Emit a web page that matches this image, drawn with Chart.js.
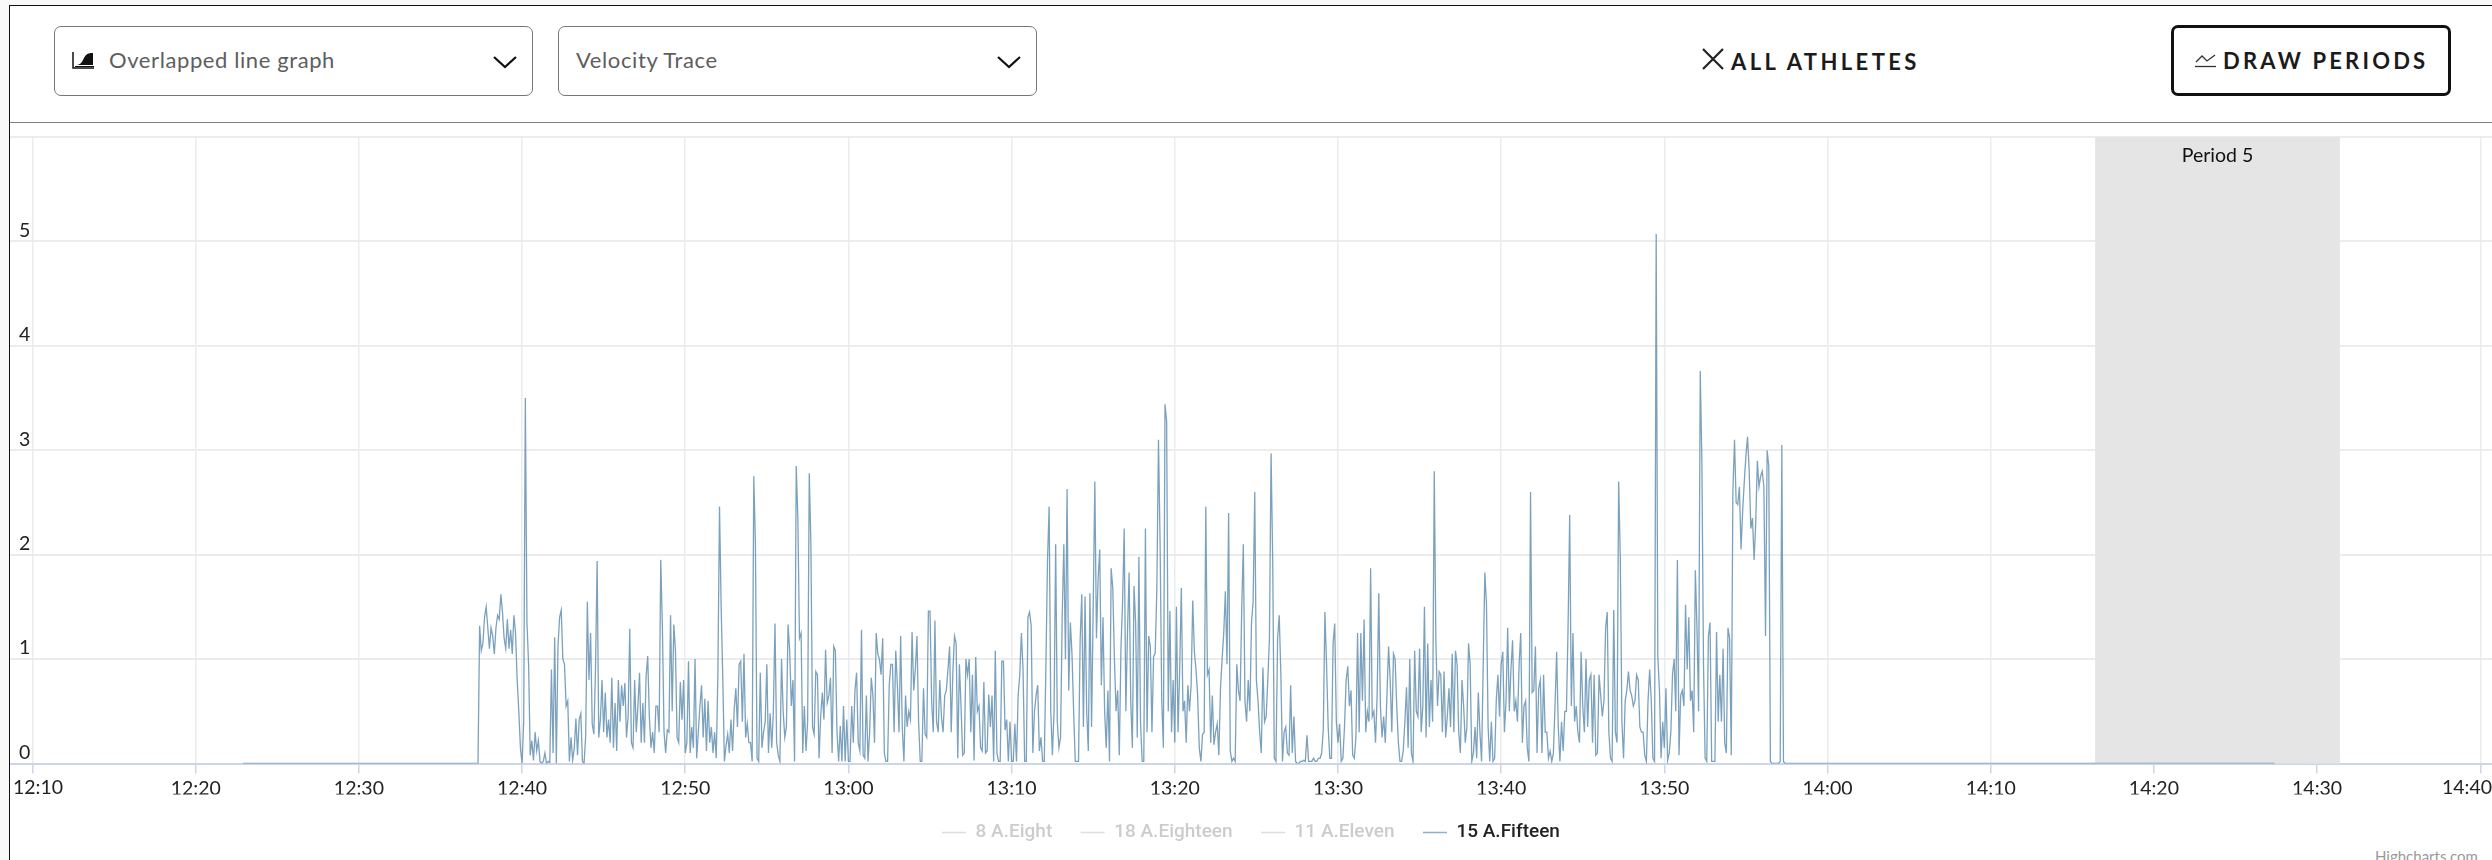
<!DOCTYPE html>
<html>
<head>
<meta charset="utf-8">
<title>Velocity Trace</title>
<script src="https://cdn.jsdelivr.net/npm/chart.js@4/dist/chart.umd.min.js"></script>
<style>
  html, body { margin: 0; padding: 0; width: 2492px; height: 860px; overflow: hidden; background: #f9f9f9; font-family: Lato, sans-serif; }
  #page { position: absolute; left: 9px; top: 5px; width: 2483px; height: 855px; background: #fff; border-left: 1px solid #111; border-top: 1px solid #111; box-sizing: border-box; }
  #rule { position: absolute; left: 10px; top: 122px; width: 2482px; height: 1px; background: #808080; }
  .select { position: absolute; top: 26px; height: 70px; width: 479px; border: 1px solid #777; border-radius: 7px; box-sizing: border-box; background: #fff; }
  .select span { position: absolute; top: 20px; font-size: 22px; line-height: 25px; color: #5e5e5e; letter-spacing: .6px; }
  .select svg { position: absolute; }
  #allAthletes { position: absolute; left: 1731px; top: 50px; font-size: 22px; line-height: 24px; font-weight: 700; letter-spacing: 3.4px; color: #1b1b1b; }
  #drawBtn { position: absolute; left: 2171px; top: 25px; width: 280px; height: 71px; border: 3px solid #111; border-radius: 7px; box-sizing: border-box; background: #fff; }
  #drawBtn span { position: absolute; left: 49px; top: 21px; font-size: 22px; line-height: 24px; font-weight: 700; letter-spacing: 3.2px; color: #1b1b1b; white-space: nowrap; }
  #credit { position: absolute; left: 2375px; top: 847px; font-size: 15px; line-height: 18px; color: #999; }
  canvas { position: absolute; left: 10px; top: 123px; }
</style>
</head>
<body>
<div id="page"></div>
<div id="rule"></div>

<div class="select" style="left:54px">
  <svg style="left:17px;top:25px" width="22" height="18" viewBox="0 0 22 18"><path d="M1 0v16h21" fill="none" stroke="#111" stroke-width="1.5"/><path d="M3 13c5 0 6-1 9-7 2-4 4-5 9-5v12z" fill="#111"/><path d="M3 14.5h19" stroke="#111"/></svg>
  <span style="left:54px">Overlapped line graph</span>
  <svg style="left:438px;top:29px" width="24" height="13" viewBox="0 0 24 13"><path d="M1 1l11 10L23 1" fill="none" stroke="#111" stroke-width="2.2"/></svg>
</div>
<div class="select" style="left:558px">
  <span style="left:17px">Velocity Trace</span>
  <svg style="left:438px;top:29px" width="24" height="13" viewBox="0 0 24 13"><path d="M1 1l11 10L23 1" fill="none" stroke="#111" stroke-width="2.2"/></svg>
</div>

<svg style="position:absolute;left:1701px;top:48px" width="24" height="22" viewBox="0 0 24 22"><path d="M2 1l20 20M22 1L2 21" fill="none" stroke="#222" stroke-width="2.2"/></svg>
<div id="allAthletes">ALL ATHLETES</div>

<div id="drawBtn">
  <svg style="position:absolute;left:21px;top:25px" width="22" height="15" viewBox="0 0 22 15"><path d="M1 9l6-6 5 5 8-6" fill="none" stroke="#333" stroke-width="1.3"/><path d="M0 13.5h21" stroke="#333" stroke-width="1.3"/></svg>
  <span>DRAW PERIODS</span>
</div>
<div id="credit">Highcharts.com</div>

<canvas id="traceChart" width="2482" height="729"></canvas>

<script>
const seriesNames = ['8 A.Eight', '18 A.Eighteen', '11 A.Eleven', '15 A.Fifteen'];
const xTickLabels = ['12:10', '12:20', '12:30', '12:40', '12:50', '13:00', '13:10', '13:20', '13:30', '13:40', '13:50', '14:00', '14:10', '14:20', '14:30', '14:40'];
const yTicks = [0, 1, 2, 3, 4, 5, 6];
const periodName = 'Period 5';
const periodRange = ['14:16.4', '14:31.4'];

// recording is flat zero either side of the active part
const idleRange = ['12:22.9', '14:27.4'];
const activeStart = '12:37';
const sampleStep = 0.1; // minutes, so one row below is one minute

const velocity = [
  0,0,0,0,1.32,1.08,1.15,1.4,1.5,1.3,
  1.1,1.3,1.22,1.05,1.3,1.42,1.38,1.62,1.45,1.2,
  1.1,1.38,1.1,1.28,1.05,1.42,1.25,0.8,0.5,0.15,
  0,0.4,3.5,1.35,0.95,0.08,0.22,0.03,0.3,0.12,
  0.22,0.02,0,0.02,0.1,0,0.02,0.01,0.9,0.1,
  1.21,0,1.12,1.4,1.47,1.0,0.95,0.55,0.6,0.02,
  0.25,0.03,0.15,0.43,0.08,0.42,0.48,0.02,0,0.27,
  1.55,0.8,1.25,0.38,0.28,0.9,1.94,0.25,0.42,0.8,
  0.3,0.68,0.25,0.42,0.2,0.82,0.15,0.58,0.12,0.8,
  0.4,0.75,0.55,0.77,0.25,0.45,1.29,0.2,0.15,0.8,
  0.3,0.55,0.87,0.2,0.58,0.2,0.83,1.03,0.45,0.15,
  0.3,0.1,0.55,0.55,0.3,1.95,1.3,0.3,0.1,0.32,
  0.3,1.42,0.5,1.33,1.08,0.25,0.2,0.78,0.42,0.8,
  0.1,0.2,0.98,0.1,0.35,0.15,1.0,0.05,0.3,0.55,
  0.75,0.25,0.62,0.12,0.6,0.2,0.35,0.1,0.3,0.05,
  0.85,2.46,1.5,0.82,0.02,0.17,0.28,0.1,0.42,0.12,
  0.52,0.72,0.35,0.95,0.98,0.4,1.05,0.25,0.38,0.2,
  0.2,0.02,2.75,2.1,0.05,0.02,0.87,0.15,0.3,0.4,
  0.95,0.1,0.48,0.15,0.5,1.34,0.2,0.08,0.02,1.0,
  0.5,0.25,0.35,1.33,1.08,0.55,0.8,0.02,2.85,2.35,
  1.2,1.25,0.1,0.55,0.12,0.4,2.78,2.1,0.35,0.28,
  0.88,0.85,0.05,0.45,0.68,0.42,1.09,0.58,0.65,0.82,
  0.1,1.12,1.08,0.3,0.02,0.36,0.02,0.55,0.02,0.42,
  0.02,0.02,0.55,0.2,0.7,0.87,0.2,0.12,1.28,0.08,
  0.05,0.65,0.02,0.3,0.82,0.65,0.2,1.25,1.05,1.0,
  0.85,1.2,0.1,0.02,0.02,0.75,0.95,0.95,0.3,1.08,
  0.75,0.3,1.22,0.35,0.02,0.65,0.35,0.5,0.42,1.26,
  0.7,0.9,1.22,0.4,0.02,0.02,0.72,0.28,0.25,1.46,
  1.46,0.6,0.3,1.37,0.4,0.3,0.8,0.45,0.3,0.65,
  0.7,0.9,1.12,0.3,0.88,1.22,1.15,0.05,0.95,0.55,
  0.08,0.1,1.0,0.85,1.0,0.3,0.85,0.03,1.02,0.5,
  0.55,0.15,0.12,0.78,0.1,0.12,0.66,0.35,0.65,0.02,
  1.08,0.1,0.02,0.02,0.98,0.98,0.32,0.42,0.02,0.4,
  0.02,0.02,0.38,0.02,0.65,0.85,1.25,0.9,0.02,0.02,
  1.4,1.45,1.32,0.1,0.5,0.65,0.75,0.12,0.25,0.02,
  0.02,0.92,1.95,2.46,0.5,0.08,0.5,2.1,0.4,0.15,
  0.25,1.4,2.1,1.0,2.63,0.7,1.35,1.05,0.5,0.02,
  0.02,0.02,1.18,1.62,0.35,1.6,0.5,0.12,1.63,0.35,
  1.5,2.7,1.2,1.77,2.05,0.75,1.4,0.5,0.15,0.7,
  0.02,1.87,1.68,1.0,0.5,0.7,0.08,1.1,1.55,2.25,
  0.5,1.25,1.83,0.6,0.15,1.7,1.35,0.25,1.98,0.4,
  0.02,0.02,2.25,0.3,1.22,1.12,0.3,1.02,1.06,1.67,
  3.1,2.1,0.6,0.15,3.44,3.28,0.5,1.46,0.3,0.8,
  0.2,1.5,0.3,0.9,1.68,0.5,0.6,0.2,0.75,0.5,
  0.75,1.56,1.07,0.9,0.65,0.15,0.02,0.28,0.3,2.46,
  0.85,0.9,0.2,0.65,0.18,0.3,0.38,0.08,0.72,1.0,
  1.25,1.65,0.95,2.4,0.12,0.02,0.05,0.02,0.95,0.7,
  0.6,1.47,2.1,0.6,0.4,0.8,0.5,1.35,1.55,2.6,
  0.8,0.6,0.3,0.1,0.92,0.4,0.45,0.8,1.2,2.97,
  1.95,0.05,0.02,1.2,1.42,0.85,0.02,0.3,0.35,0.1,
  0.08,0.75,0.1,0.45,0.02,0,0,0.02,0.02,0.03,
  0.02,0.27,0.02,0.02,0.02,0.05,0.02,0.02,0.05,0.05,
  0.1,0.32,1.45,0.95,0.35,0.05,0.05,1.15,1.34,0.4,
  0.2,0.38,0.02,0.05,0.35,0.8,0.93,0.55,0.7,0.08,
  0.05,0.25,1.25,0.3,1.25,0.6,1.38,0.3,0.5,0.4,
  1.87,0.45,0.5,0.2,0.65,1.63,0.55,0.25,0.45,0.2,
  0.65,1.12,0.8,0.3,1.05,1.0,0.55,0.2,0.02,0.02,
  0.12,0.4,0.73,0.15,1.0,0.1,0.02,1.08,0.5,0.45,
  1.1,0.3,0.55,1.5,0.25,1.15,0.35,0.8,0.4,2.8,
  1.17,0.55,0.88,0.85,0.3,0.88,0.25,0.45,0.72,0.35,
  1.05,0.3,1.08,0.95,0.3,0.1,0.8,0.55,0.2,0.35,
  1.15,0.95,0.02,0.1,0.35,0.05,0.68,0.3,0.02,0.95,
  1.83,1.53,0.35,0.02,0.4,0.02,0.05,0.6,0.85,0.45,
  0.95,1.07,0.3,0.6,1.3,0.5,0.9,1.18,0.5,0.6,
  0.4,0.95,1.25,0.2,0.55,0.6,0.15,0.02,2.6,0.68,
  0.7,1.12,0.1,0.72,0.8,0.1,0.85,0.3,0.3,0.05,
  0.12,0.02,0.1,0.55,1.07,0.35,0.02,0.4,0.12,0.5,
  0.5,1.3,2.38,0.55,1.25,0.4,0.55,0.3,0.2,1.07,
  0.55,0.3,1.0,0.35,0.8,0.85,0.2,0.85,0.08,0.1,
  0.85,0.65,0.45,0.6,1.3,1.45,0.3,0.05,0.02,1.47,
  0.3,0.2,2.7,1.98,0.4,0.05,0.6,0.7,0.88,0.7,
  0.65,0.55,0.6,0.85,0.8,0.35,0.3,0.3,0.08,0.02,
  0.6,0.9,0.6,0.05,0.02,5.07,1.03,0.7,0.05,0.4,
  0.15,0.72,0.03,0.1,0.3,0.85,1.0,0.5,1.95,0.08,
  0.65,0.7,0.55,1.52,0.9,1.4,0.6,0.7,0.3,1.85,
  1.3,0.5,3.76,2.9,0.95,0.05,0.02,1.22,1.35,0.02,
  0.02,0.02,1.26,0.4,0.85,0.4,1.1,0.2,0.1,1.3,
  1.2,0.08,2.6,3.1,2.5,2.48,2.65,2.05,2.42,2.7,
  2.95,3.13,2.8,2.25,2.35,1.95,2.3,2.9,2.65,2.75,
  2.8,2.65,1.22,3.0,2.85,0.02,0,0,0,0,
  0,0.02,3.05,0.02,0,0,0,0,0,0
];

function toMinutes(label) {
  const parts = label.split(':');
  return Number(parts[0]) * 60 + Number(parts[1]);
}

const traceStart = toMinutes(activeStart);
const tracePoints = [{ x: toMinutes(idleRange[0]), y: 0 }]
  .concat(velocity.map((v, i) => ({ x: traceStart + i * sampleStep, y: v })))
  .concat([{ x: toMinutes(idleRange[1]), y: 0 }]);

const labelFont = { family: 'Lato', size: 19.5 };
const gridColor = '#ececec';
const axisColor = '#ccd6eb';

// band and the label on top of it, plus the two axis labels pushed inwards at the plot edges
const periodBand = {
  id: 'periodBand',
  beforeDatasetsDraw(chart) {
    const { ctx, chartArea, scales } = chart;
    const left = scales.x.getPixelForValue(toMinutes(periodRange[0]));
    const right = scales.x.getPixelForValue(toMinutes(periodRange[1]));
    ctx.save();
    ctx.fillStyle = '#e5e5e5';
    ctx.fillRect(left, chartArea.top, right - left, chartArea.bottom - chartArea.top);
    ctx.fillStyle = '#111';
    ctx.font = '19.5px Lato';
    ctx.textAlign = 'center';
    ctx.textBaseline = 'middle';
    ctx.fillText(periodName, (left + right) / 2, chartArea.top + 19);
    ctx.restore();
  },
  afterDraw(chart) {
    const { ctx, chartArea } = chart;
    const y = chartArea.bottom + 24;
    ctx.save();
    ctx.fillStyle = '#222';
    ctx.font = '19.5px Lato';
    ctx.textBaseline = 'middle';
    ctx.textAlign = 'left';
    ctx.fillText(xTickLabels[0], chartArea.left + 3, y);
    ctx.textAlign = 'right';
    ctx.fillText(xTickLabels[xTickLabels.length - 1], chartArea.right, y);
    ctx.restore();
  }
};

const ctx = document.getElementById('traceChart').getContext('2d');
const traceChart = new Chart(ctx, {
  type: 'line',
  data: {
    datasets: seriesNames.map((name, i) => ({
      label: name,
      data: i === 3 ? tracePoints : [],
      hidden: i !== 3,
      borderColor: 'rgba(100,145,178,0.85)',
      borderWidth: 1.3,
      pointRadius: 0,
      tension: 0
    }))
  },
  options: {
    responsive: false,
    animation: false,
    devicePixelRatio: 1,
    layout: { padding: { top: 14, left: 0, right: 0, bottom: 0 } },
    plugins: {
      tooltip: { enabled: false },
      legend: {
        position: 'bottom',
        onClick: null,
        labels: {
          padding: 28.5,
          usePointStyle: true,
          pointStyle: 'line',
          pointStyleWidth: 24,
          font: { family: 'Roboto', size: 19, weight: '500' },
          generateLabels(chart) {
            return chart.data.datasets.map((ds, i) => ({
              text: ds.label,
              datasetIndex: i,
              hidden: false,
              fontColor: i === 3 ? '#222' : '#ccc',
              strokeStyle: i === 3 ? '#8fb0c9' : '#ddd',
              fillStyle: 'transparent',
              lineWidth: 1.5,
              pointStyle: 'line'
            }));
          }
        }
      }
    },
    scales: {
      x: {
        type: 'linear',
        min: toMinutes('12:08.62'),
        max: toMinutes('14:40.72'),
        afterFit(scale) { scale.height = 31; },
        afterBuildTicks(scale) { scale.ticks = xTickLabels.map(l => ({ value: toMinutes(l) })); },
        border: { color: axisColor, width: 2 },
        grid: { color: gridColor, lineWidth: 1.5, tickColor: axisColor, tickLength: 10, tickWidth: 1.5 },
        ticks: {
          autoSkip: false,
          maxRotation: 0,
          padding: 4,
          color: '#222',
          font: labelFont,
          callback(value, i) { return i === 0 || i === xTickLabels.length - 1 ? '' : xTickLabels[i]; }
        }
      },
      y: {
        min: yTicks[0],
        max: yTicks[yTicks.length - 1],
        afterFit(scale) { scale.width = 0; scale.paddingTop = 0; scale.paddingBottom = 0; },
        afterBuildTicks(scale) { scale.ticks = yTicks.map(v => ({ value: v })); },
        border: { display: false },
        grid: { color: gridColor, lineWidth: 2, drawTicks: false },
        ticks: {
          mirror: true,
          padding: 9,
          labelOffset: -11,
          color: '#222',
          font: labelFont,
          callback(value) { return value === 6 ? '' : String(value); }
        }
      }
    }
  },
  plugins: [periodBand]
});
</script>
</body>
</html>
